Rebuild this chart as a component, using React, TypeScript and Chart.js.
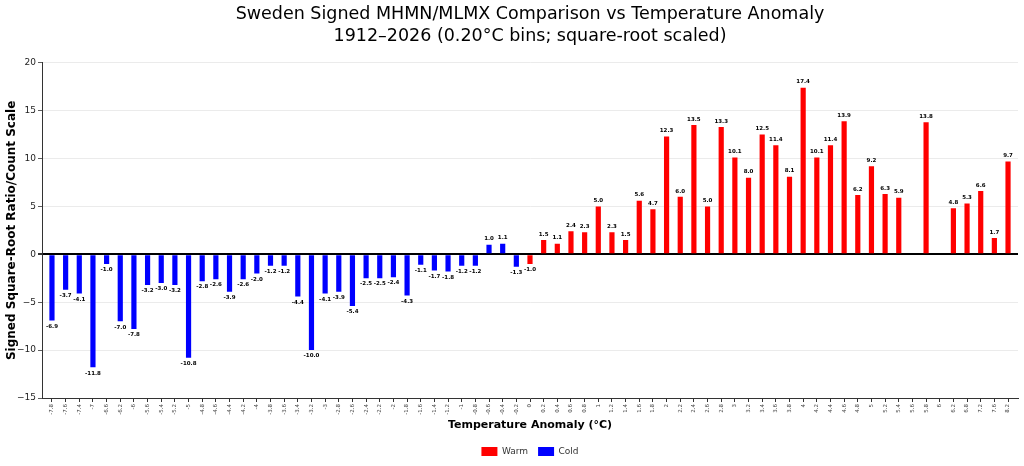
import { useEffect, useRef } from "react";
import { Chart, registerables } from "chart.js";
import type { Plugin } from "chart.js";

Chart.register(...registerables);

const bins = [
  "-7.8", "-7.6", "-7.4", "-7", "-6.6", "-6.2", "-6", "-5.6", "-5.4", "-5.2",
  "-5", "-4.8", "-4.6", "-4.4", "-4.2", "-4", "-3.8", "-3.6", "-3.4", "-3.2",
  "-3", "-2.8", "-2.6", "-2.4", "-2.2", "-2", "-1.8", "-1.6", "-1.4", "-1.2",
  "-1", "-0.8", "-0.6", "-0.4", "-0.2", "0", "0.2", "0.4", "0.6", "0.8",
  "1", "1.2", "1.4", "1.6", "1.8", "2", "2.2", "2.4", "2.6", "2.8",
  "3", "3.2", "3.4", "3.6", "3.8", "4", "4.2", "4.4", "4.6", "4.8",
  "5", "5.2", "5.4", "5.6", "5.8", "6", "6.2", "6.8", "7.2", "7.6", "8.2",
];

// cold bins (below 0 °C)
const coldValues = [
  -6.9, -3.7, -4.1, -11.8, -1.0, -7.0, -7.8, -3.2, -3.0, -3.2,
  -10.8, -2.8, -2.6, -3.9, -2.6, -2.0, -1.2, -1.2, -4.4, -10.0,
  -4.1, -3.9, -5.4, -2.5, -2.5, -2.4, -4.3, -1.1, -1.7, -1.8,
  -1.2, -1.2, 1.0, 1.1, -1.3,
];

// warm bins (0 °C and above); null = empty bin
const warmValues: (number | null)[] = [
  -1.0, 1.5, 1.1, 2.4, 2.3, 5.0, 2.3, 1.5, 5.6, 4.7,
  12.3, 6.0, 13.5, 5.0, 13.3, 10.1, 8.0, 12.5, 11.4, 8.1,
  17.4, 10.1, 11.4, 13.9, 6.2, 9.2, 6.3, 5.9, null, 13.8,
  null, 4.8, 5.3, 6.6, 1.7, 9.7,
];

const coldData = [...coldValues, ...warmValues.map(() => null)];
const warmData = [...coldValues.map(() => null), ...warmValues];

// side margin of the category axis, in bins (matplotlib-like)
const xMargin = 0.73;

const barLabels: Plugin<"bar"> = {
  id: "barLabels",
  afterDatasetsDraw(chart) {
    const ctx = chart.ctx;
    ctx.save();
    ctx.font = "bold 5.5px 'DejaVu Sans'";
    ctx.fillStyle = "#000";
    ctx.textAlign = "center";
    chart.data.datasets.forEach((ds, i) => {
      const meta = chart.getDatasetMeta(i);
      meta.data.forEach((el, j) => {
        const v = ds.data[j] as number | null;
        if (v === null || v === undefined) return;
        if (v >= 0) {
          ctx.textBaseline = "bottom";
          ctx.fillText(v.toFixed(1), el.x, el.y - 3);
        } else {
          ctx.textBaseline = "top";
          ctx.fillText(v.toFixed(1), el.x, el.y + 3);
        }
      });
    });
    ctx.restore();
  },
};

export default function App() {
  const canvasRef = useRef<HTMLCanvasElement>(null);

  useEffect(() => {
    document.body.style.margin = "0";
    if (!canvasRef.current) return;
    Chart.defaults.font.family = "'DejaVu Sans'";

    const chart = new Chart(canvasRef.current, {
      type: "bar",
      data: {
        labels: bins,
        datasets: [
          {
            label: "Warm",
            data: warmData,
            backgroundColor: "#ff0000",
            borderWidth: 0,
            grouped: false,
            barPercentage: 0.38,
            categoryPercentage: 1,
          },
          {
            label: "Cold",
            data: coldData,
            backgroundColor: "#0000ff",
            borderWidth: 0,
            grouped: false,
            barPercentage: 0.38,
            categoryPercentage: 1,
          },
        ],
      },
      options: {
        animation: false,
        responsive: true,
        maintainAspectRatio: false,
        layout: { padding: { left: 0, right: 6, top: 0, bottom: 0 } },
        scales: {
          x: {
            offset: false,
            afterBuildTicks: (scale: any) => {
              scale._startValue = scale.min - xMargin;
              scale._valueRange = scale.max - scale.min + 2 * xMargin;
            },
            afterFit: (scale) => {
              scale.height = 39;
            },
            border: { color: "#333", width: 1 },
            grid: {
              drawOnChartArea: false,
              offset: false,
              tickLength: 4,
              tickColor: "#333",
            },
            ticks: {
              autoSkip: false,
              minRotation: 90,
              maxRotation: 90,
              padding: 2,
              color: "#444",
              font: { size: 5.5 },
            },
            title: {
              display: true,
              text: "Temperature Anomaly (°C)",
              color: "#000",
              font: { size: 11, weight: "bold" },
              padding: { top: 0, bottom: 5 },
            },
          },
          y: {
            min: -15,
            max: 20,
            afterFit: (scale) => {
              scale.width = 42;
            },
            border: { color: "#333", width: 1 },
            grid: {
              color: (c) => (c.tick && c.tick.value === 0 ? "#000" : "#e6e6e6"),
              lineWidth: (c) => (c.tick && c.tick.value === 0 ? 2 : 0.8),
              tickLength: 4,
              tickColor: "#333",
            },
            ticks: {
              stepSize: 5,
              padding: 2,
              color: "#222",
              font: { size: 9 },
              callback: (v) => String(v).replace("-", "\u2212"),
            },
            title: {
              display: true,
              text: "Signed Square-Root Ratio/Count Scale",
              color: "#000",
              font: { size: 12, weight: "bold" },
              padding: { top: 5, bottom: 0 },
            },
          },
        },
        plugins: {
          title: {
            display: true,
            fullSize: false,
            text: [
              "Sweden Signed MHMN/MLMX Comparison vs Temperature Anomaly",
              "1912–2026 (0.20°C bins; square-root scaled)",
            ],
            color: "#000",
            font: { size: 17.5, weight: "normal", lineHeight: 1.25 },
            padding: { top: 4, bottom: 15 },
          },
          legend: {
            position: "bottom",
            fullSize: false,
            labels: {
              boxWidth: 16,
              boxHeight: 9,
              padding: 10,
              color: "#333",
              font: { size: 9 },
            },
          },
          tooltip: { enabled: false },
        },
      },
      plugins: [barLabels],
    });

    return () => {
      chart.destroy();
    };
  }, []);

  return (
    <div style={{ width: "1024px", height: "466px", position: "relative" }}>
      <canvas ref={canvasRef} />
    </div>
  );
}
